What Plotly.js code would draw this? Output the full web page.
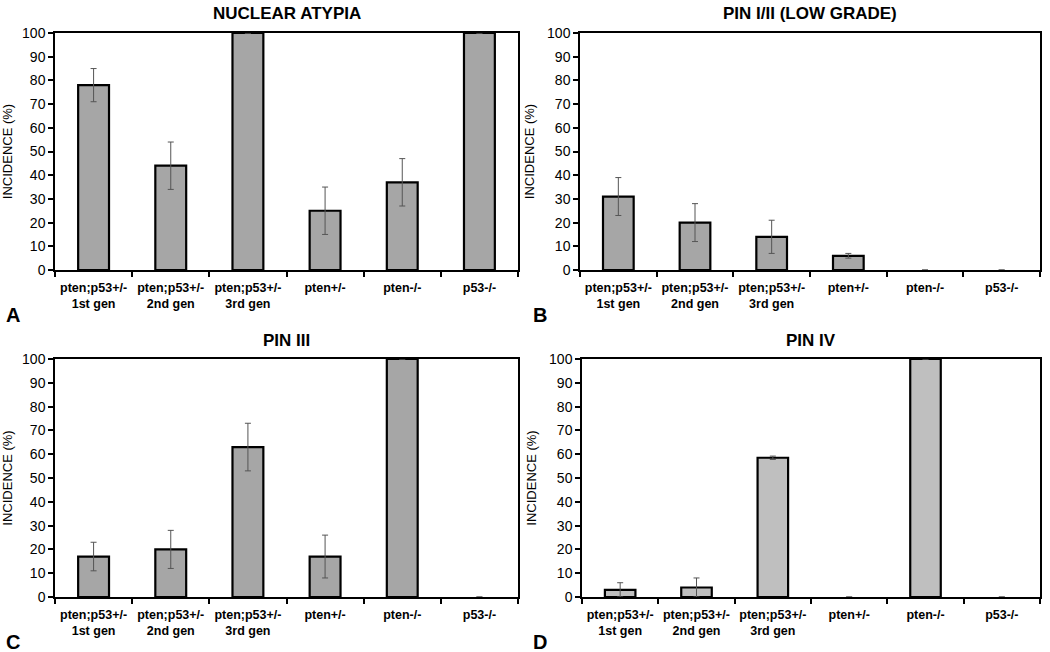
<!DOCTYPE html>
<html>
<head>
<meta charset="utf-8">
<script src="https://cdn.plot.ly/plotly-3.0.1.min.js"></script>
<style>html,body{margin:0;padding:0;background:#fff;}#chart{width:1050px;height:652px;}</style>
</head>
<body>
<div id="chart"></div>
<script>
// Data
const categories = ["pten;p53+/-<br>1st gen", "pten;p53+/-<br>2nd gen", "pten;p53+/-<br>3rd gen", "pten+/-", "pten-/-", "p53-/-"];
const panelTitles = ["NUCLEAR ATYPIA", "PIN I/II (LOW GRADE)", "PIN III", "PIN IV"];
const panelLetters = ["A", "B", "C", "D"];
const nuclearAtypia = [78, 44, 100, 25, 37, 100];
const nuclearAtypiaErr = [7, 10, null, 10, 10, null];
const pinLow = [31, 20, 14, 6, 0, 0];
const pinLowErr = [8, 8, 7, 1, null, null];
const pin3 = [17, 20, 63, 17, 100, 0];
const pin3Err = [6, 8, 10, 9, null, null];
const pin4 = [3, 4, 58.5, 0, 100, 0];
const pin4Err = [3, 4, 0.7, null, null, null];
const yTickVals = [0, 10, 20, 30, 40, 50, 60, 70, 80, 90, 100];
const yTitle = "INCIDENCE (%)";

const W = 1050, H = 652;
const FONT = "Liberation Sans, Arial, sans-serif";
// pixel boxes [x0, x1, yTop, yBottom]
const boxes = [
  [55, 518, 33, 270],
  [580, 1040, 33, 270],
  [55, 518, 359, 597],
  [582, 1040, 359, 597]
];
const series = [nuclearAtypia, pinLow, pin3, pin4];
const errs = [nuclearAtypiaErr, pinLowErr, pin3Err, pin4Err];
const fills = ["#a6a6a6", "#a6a6a6", "#a6a6a6", "#bfbfbf"];

const data = [];
const layout = {
  width: W, height: H,
  margin: {l: 0, r: 0, t: 0, b: 0},
  paper_bgcolor: "#fff", plot_bgcolor: "#fff",
  showlegend: false, bargap: 0.6,
  font: {family: FONT, color: "#000"},
  annotations: []
};

for (let i = 0; i < 4; i++) {
  const b = boxes[i];
  const sfx = i === 0 ? "" : String(i + 1);
  data.push({
    type: "bar",
    x: categories, y: series[i],
    xaxis: "x" + sfx, yaxis: "y" + sfx,
    marker: {color: fills[i], line: {color: "#000", width: series[i].map(v => v > 0 ? 2.2 : 0)}},
    error_y: {type: "data", array: errs[i], visible: true, color: "#555", thickness: 1, width: 3},
    hoverinfo: "x+y"
  });
  layout["xaxis" + sfx] = {
    domain: [b[0] / W, b[1] / W],
    anchor: "y" + sfx,
    type: "category",
    range: [-0.5, 5.5],
    showline: true, mirror: true, linecolor: "#000", linewidth: 1.5,
    ticks: "outside", tickson: "boundaries", ticklen: 5, tickcolor: "#000", tickwidth: 1.5,
    showgrid: false, zeroline: false,
    tickfont: {family: FONT, size: 12.5, color: "#000", weight: "bold"},
    ticklabelstandoff: 5,
    tickangle: 0,
    fixedrange: true
  };
  layout["yaxis" + sfx] = {
    domain: [(H - b[3]) / H, (H - b[2]) / H],
    anchor: "x" + sfx,
    range: [0, 100],
    tickvals: yTickVals,
    showline: true, mirror: true, linecolor: "#000", linewidth: 1.5,
    ticks: "outside", ticklen: 5, tickcolor: "#000", tickwidth: 1.5,
    showgrid: false, zeroline: false,
    tickfont: {family: FONT, size: 14, color: "#000"},
    title: {text: yTitle, font: {family: FONT, size: 13, color: "#000"}, standoff: 10},
    fixedrange: true
  };
  layout.annotations.push({
    text: "<b>" + panelTitles[i] + "</b>",
    xref: "paper", yref: "paper",
    x: (b[0] + b[1]) / 2 / W, y: (H - (b[2] - 19)) / H,
    xanchor: "center", yanchor: "middle", showarrow: false,
    font: {family: FONT, size: 17, color: "#000"}
  });
  layout.annotations.push({
    text: "<b>" + panelLetters[i] + "</b>",
    xref: "paper", yref: "paper",
    x: (i % 2 === 0 ? 4 : 531) / W, y: (H - (b[3] + 45)) / H,
    xanchor: "left", yanchor: "middle", showarrow: false,
    font: {family: FONT, size: 20, color: "#000"}
  });
}

Plotly.newPlot("chart", data, layout, {displayModeBar: false, staticPlot: false});
</script>
</body>
</html>
